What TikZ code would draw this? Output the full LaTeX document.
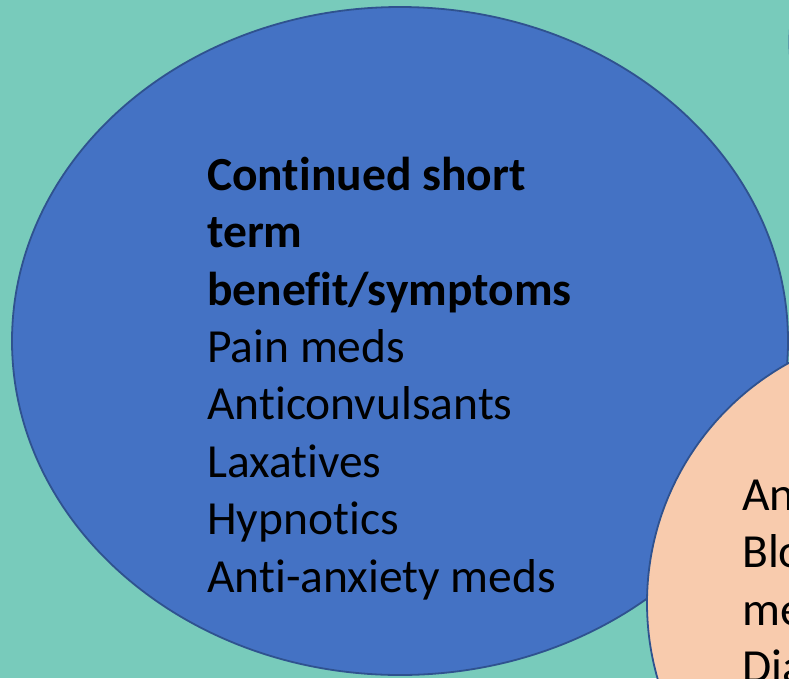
\documentclass[tikz,border=0pt]{standalone}
\usepackage{fontspec}
\setmainfont{Carlito}[RawFeature={-liga}]
\definecolor{bg}{RGB}{120,203,187}
\definecolor{blu}{RGB}{68,114,196}
\definecolor{blo}{RGB}{47,82,143}
\definecolor{pch}{RGB}{248,203,173}
\begin{document}
\begin{tikzpicture}[x=1pt,y=-1pt,
  txt/.style={anchor=base west,inner sep=0pt,font=\fontsize{47.5}{57}\selectfont},
  btxt/.style={txt,font=\fontsize{47.5}{57}\selectfont\bfseries},
  shp/.style={draw=blo,line width=1.8pt}]
\useasboundingbox[fill=bg] (0,0) rectangle (789,678);
\begin{scope}
\clip (0,0) rectangle (789,678);
\draw[shp,fill=blu] (989.5,42) circle (200);
\draw[shp,fill=blu] (400,341) ellipse [x radius=388, y radius=334];
\draw[shp,fill=pch] (921,603) circle (274);
\node[btxt] (l1) at (207,190) {Continued short};
\node[btxt] (l2) at (207,247.5) {term};
\node[btxt] (l3) at (207,305) {benefit/symptoms};
\node[txt] (l4) at (207,362) {Pain meds};
\node[txt] (l5) at (207,419.5) {Anticonvulsants};
\node[txt] (l6) at (207,477) {Laxatives};
\node[txt] (l7) at (207,534.5) {Hypnotics};
\node[txt] (l8) at (207,592) {Anti-anxiety meds};
\node[txt] (r1) at (742,510) {An};
\node[txt] (r2) at (742,567.5) {Blo};
\node[txt] (r3) at (742,625) {me};
\node[txt] (r4) at (742,682.5) {Dia};
\end{scope}
\end{tikzpicture}
\end{document}
